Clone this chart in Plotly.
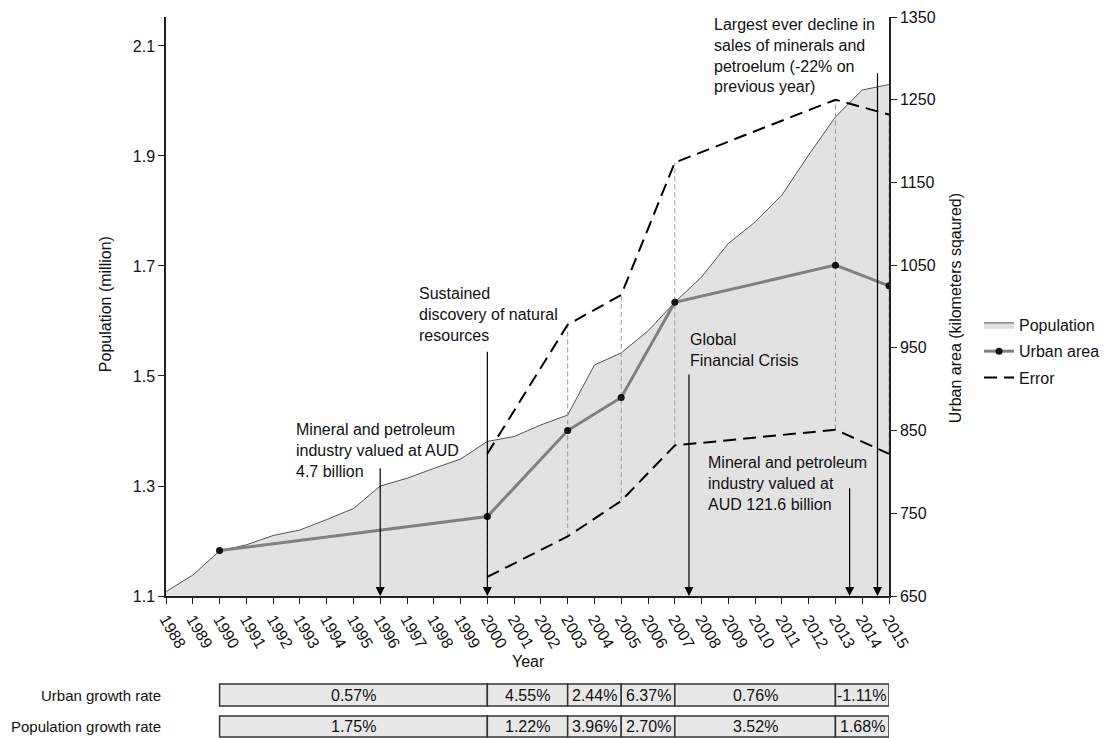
import plotly.graph_objects as go

# ---- data ----
years = list(range(1988, 2016))
population = [1.108, 1.138, 1.182, 1.193, 1.210, 1.220, 1.239, 1.259, 1.300, 1.314,
              1.332, 1.349, 1.381, 1.390, 1.411, 1.429, 1.520, 1.542, 1.582, 1.634,
              1.680, 1.741, 1.780, 1.829, 1.902, 1.971, 2.020, 2.030]

urban_years = [1990, 2000, 2003, 2005, 2007, 2013, 2015]
urban_area = [705, 746, 850, 890, 1005, 1050, 1025]

err_years = [2000, 2003, 2005, 2007, 2013, 2015]
err_upper = [822, 978, 1014, 1174, 1250, 1232]
err_lower = [673, 722, 765, 832, 851, 822]

period_bounds = [1990, 2000, 2003, 2005, 2007, 2013, 2015]
urban_rates = ["0.57%", "4.55%", "2.44%", "6.37%", "0.76%", "-1.11%"]
pop_rates = ["1.75%", "1.22%", "3.96%", "2.70%", "3.52%", "1.68%"]

left_ticks = [1.1, 1.3, 1.5, 1.7, 1.9, 2.1]
right_ticks = [650, 750, 850, 950, 1050, 1150, 1250, 1350]

Y_RANGE = [1.1, 2.1527]

events = [
    # (arrow x, arrow tail y, text x, text top y, text) -- y in population units
    (1996.0, 1.335, 1992.79, 1.422, "Mineral and petroleum<br>industry valued at AUD<br>4.7 billion"),
    (2000.0, 1.547, 1997.37, 1.669, "Sustained<br>discovery of natural<br>resources"),
    (2007.53, 1.5055, 2007.48, 1.5855, "Global<br>Financial Crisis"),
    (2013.53, 1.2987, 2008.15, 1.3618, "Mineral and petroleum<br>industry valued at<br>AUD 121.6 billion"),
    (2014.57, 2.0533, 2008.38, 2.158, "Largest ever decline in<br>sales of minerals and<br>petroelum (-22% on<br>previous year)"),
]

FONT = "Liberation Sans, Arial, sans-serif"
TXT = "#111111"


def to_paper(v):
    return (v - Y_RANGE[0]) / (Y_RANGE[1] - Y_RANGE[0])


fig = go.Figure()

fig.add_trace(go.Scatter(
    x=years, y=population, name="Population", mode="lines", legendrank=1,
    line=dict(color="#555555", width=1), fill="tozeroy", fillcolor="#e2e2e2",
    yaxis="y"))

# thin dashed connectors between the error bounds
vx, vy = [], []
for yr, lo, hi in zip(err_years, err_lower, err_upper):
    vx += [yr, yr, None]
    vy += [lo, hi, None]
fig.add_trace(go.Scatter(
    x=vx, y=vy, mode="lines", showlegend=False, hoverinfo="skip",
    line=dict(color="#9a9a9a", width=1, dash="5px,3px"), yaxis="y2"))

fig.add_trace(go.Scatter(
    x=err_years, y=err_upper, name="Error", mode="lines", legendgroup="err", legendrank=3,
    line=dict(color="black", width=2, dash="13px,7px"), yaxis="y2"))
fig.add_trace(go.Scatter(
    x=err_years, y=err_lower, name="Error", mode="lines", legendgroup="err", legendrank=3,
    showlegend=False, line=dict(color="black", width=2, dash="13px,7px"), yaxis="y2"))

fig.add_trace(go.Scatter(
    x=urban_years, y=urban_area, name="Urban area", mode="lines+markers", legendrank=2,
    line=dict(color="#808080", width=3), marker=dict(color="#111111", size=7),
    yaxis="y2"))

annotations = []
for ax_x, tail_y, tx, ty, text in events:
    annotations.append(dict(
        x=ax_x, y=Y_RANGE[0], xref="x", yref="y", ax=ax_x, ay=tail_y, axref="x", ayref="y",
        text="", showarrow=True, arrowhead=2, arrowsize=1.5, arrowwidth=1.2,
        arrowcolor="black"))
    annotations.append(dict(
        x=tx, y=to_paper(ty), xref="x", yref="paper", text=text, showarrow=False,
        xanchor="left", yanchor="top", align="left",
        font=dict(size=16, color=TXT, family=FONT)))

# axis titles
annotations += [
    dict(x=-0.0844, y=0.504, xref="paper", yref="paper", text="Population (million)",
         textangle=-90, showarrow=False, xanchor="center", yanchor="middle",
         font=dict(size=16, color=TXT, family=FONT)),
    dict(x=1.0913, y=0.497, xref="paper", yref="paper", text="Urban area (kilometers sqaured)",
         textangle=-90, showarrow=False, xanchor="center", yanchor="middle",
         font=dict(size=16, color=TXT, family=FONT)),
    dict(x=0.5007, y=-0.1123, xref="paper", yref="paper", text="Year",
         showarrow=False, xanchor="center", yanchor="middle",
         font=dict(size=16, color=TXT, family=FONT)),
]

# growth-rate table under the chart
shapes = []
rows = [(urban_rates, -0.152, -0.190, "Urban growth rate"),
        (pop_rates, -0.2073, -0.2435, "Population growth rate")]
for rates, top, bot, label in rows:
    annotations.append(dict(
        x=-0.0035, y=(top + bot) / 2, xref="paper", yref="paper", text=label,
        xanchor="right", yanchor="middle", showarrow=False,
        font=dict(size=15, color=TXT, family=FONT)))
    for i, rate in enumerate(rates):
        x0, x1 = period_bounds[i], period_bounds[i + 1]
        shapes.append(dict(type="rect", xref="x", yref="paper", x0=x0, x1=x1,
                           y0=bot, y1=top, fillcolor="#e8e8e8",
                           line=dict(color="#333333", width=1.5), layer="above"))
        annotations.append(dict(
            x=(x0 + x1) / 2, y=(top + bot) / 2, xref="x", yref="paper", text=rate,
            xanchor="center", yanchor="middle", showarrow=False,
            font=dict(size=16, color=TXT, family=FONT)))

axis_common = dict(showline=True, linecolor="#222222", linewidth=1.5,
                   ticks="outside", ticklen=6, tickcolor="#222222",
                   showgrid=False, zeroline=False, automargin=False,
                   tickfont=dict(size=16, color=TXT, family=FONT))

fig.update_layout(
    width=1104, height=738,
    margin=dict(l=166, r=215, t=17, b=142, autoexpand=False),
    paper_bgcolor="white", plot_bgcolor="white",
    font=dict(family=FONT, size=16, color=TXT),
    showlegend=True,
    legend=dict(xref="container", yref="container", x=0.8868, y=0.5827,
                xanchor="left", yanchor="top", tracegroupgap=2.5,
                font=dict(size=16, color=TXT, family=FONT),
                bgcolor="rgba(0,0,0,0)", itemwidth=30),
    xaxis=dict(range=[1988, 2015], tickmode="array", tickvals=years,
               ticktext=[str(y) for y in years], tickangle=60, **axis_common),
    yaxis=dict(range=Y_RANGE, tickmode="array", tickvals=left_ticks,
               ticktext=[f"{v:.1f}" for v in left_ticks], **axis_common),
    yaxis2=dict(range=[650, 1350], tickmode="array", tickvals=right_ticks,
                overlaying="y", side="right", anchor="x", **axis_common),
    annotations=annotations,
    shapes=shapes,
)

fig.write_html("out.html")
